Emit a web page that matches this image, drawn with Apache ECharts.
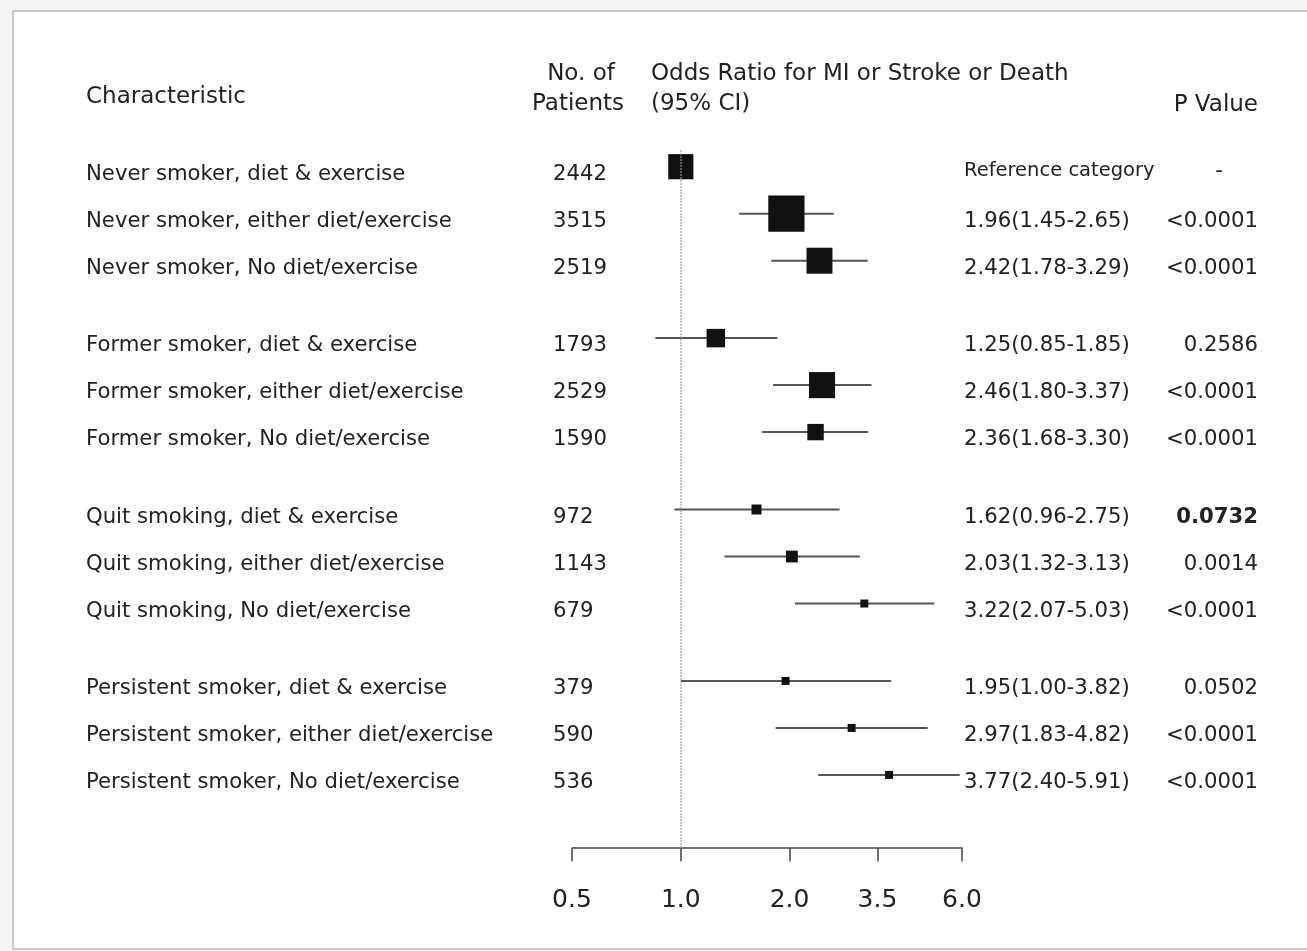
<!DOCTYPE html>
<html>
<head>
<meta charset="utf-8">
<title>Odds Ratio for MI or Stroke or Death</title>
<script src="https://cdn.jsdelivr.net/npm/echarts@6.0.0/dist/echarts.min.js"></script>
<style>
  html, body { margin: 0; padding: 0; background: #f4f4f4; }
  #chart { width: 1307px; height: 951px; }
</style>
</head>
<body>
<div id="chart"></div>
<script>
// Forest plot: risk of MI, stroke or death by smoking status and lifestyle
const characteristics = [
  'Never smoker, diet & exercise',
  'Never smoker, either diet/exercise',
  'Never smoker, No diet/exercise',
  'Former smoker, diet & exercise',
  'Former smoker, either diet/exercise',
  'Former smoker, No diet/exercise',
  'Quit smoking, diet & exercise',
  'Quit smoking, either diet/exercise',
  'Quit smoking, No diet/exercise',
  'Persistent smoker, diet & exercise',
  'Persistent smoker, either diet/exercise',
  'Persistent smoker, No diet/exercise'
];
const groupIndex = [0, 0, 0, 1, 1, 1, 2, 2, 2, 3, 3, 3];
const patients = [2442, 3515, 2519, 1793, 2529, 1590, 972, 1143, 679, 379, 590, 536];
const oddsRatio = [1.00, 1.96, 2.42, 1.25, 2.46, 2.36, 1.62, 2.03, 3.22, 1.95, 2.97, 3.77];
const ciLower = [null, 1.45, 1.78, 0.85, 1.80, 1.68, 0.96, 1.32, 2.07, 1.00, 1.83, 2.40];
const ciUpper = [null, 2.65, 3.29, 1.85, 3.37, 3.30, 2.75, 3.13, 5.03, 3.82, 4.82, 5.91];
const pValues = ['-', '<0.0001', '<0.0001', '0.2586', '<0.0001', '<0.0001',
                 '0.0732', '0.0014', '<0.0001', '0.0502', '<0.0001', '<0.0001'];
const boldPValues = ['0.0732'];
const axisTickValues = [0.5, 1.0, 2.0, 3.5, 6.0];
const axisTickLabels = ['0.5', '1.0', '2.0', '3.5', '6.0'];
const referenceText = 'Reference category';

const FONT = '"DejaVu Sans", "Liberation Sans", sans-serif';
const TEXT_COLOR = '#222';
const GROUP_GAP = 0.647;

// vertical slot of each row: one unit per row plus a gap between groups
const rowPos = characteristics.map((_, i) => i + groupIndex[i] * GROUP_GAP);
const boxSize = n => Math.max(8, n / 97);
const orText = i => ciLower[i] == null
  ? referenceText
  : oddsRatio[i].toFixed(2) + '(' + ciLower[i].toFixed(2) + '-' + ciUpper[i].toFixed(2) + ')';

const seriesData = characteristics.map((_, i) => ({
  value: [oddsRatio[i], rowPos[i], ciLower[i] == null ? '-' : ciLower[i], ciUpper[i] == null ? '-' : ciUpper[i]]
}));

function textStyle(text, size, align, weight) {
  return {
    text: text,
    fontFamily: FONT,
    fontSize: size,
    fontWeight: weight || 'normal',
    fill: TEXT_COLOR,
    align: align,
    verticalAlign: 'middle'
  };
}

function renderRow(params, api) {
  const i = params.dataIndex;
  const pos = api.value(1);
  const c = api.coord([api.value(0), pos]);
  const children = [];
  const lo = api.value(2), hi = api.value(3);
  if (!isNaN(lo) && !isNaN(hi)) {
    const a = api.coord([lo, pos]);
    const b = api.coord([hi, pos]);
    children.push({
      type: 'line',
      shape: { x1: a[0], y1: a[1], x2: b[0], y2: b[1] },
      style: { stroke: '#555', lineWidth: 2 }
    });
  }
  const s = boxSize(patients[i]);
  children.push({
    type: 'rect',
    shape: { x: c[0] - s / 2, y: c[1] - s / 2, width: s, height: s },
    style: { fill: '#111' }
  });
  // table columns sit a little below the marker's centre line
  const ty = c[1] + 7.5;
  children.push({ type: 'text', x: 86, y: ty, style: textStyle(characteristics[i], 21.2, 'left') });
  children.push({ type: 'text', x: 553, y: ty, style: textStyle(String(patients[i]), 21.2, 'left') });
  const isRef = ciLower[i] == null;
  children.push({ type: 'text', x: 964, y: isRef ? ty - 3 : ty,
    style: textStyle(orText(i), isRef ? 19.5 : 21.2, 'left') });
  const p = pValues[i];
  children.push({
    type: 'text',
    x: p === '-' ? 1219 : 1258,
    y: p === '-' ? ty - 3 : ty,
    style: textStyle(p, 21.2, p === '-' ? 'center' : 'right',
      boldPValues.indexOf(p) >= 0 ? 'bold' : 'normal')
  });
  return { type: 'group', children: children };
}

const chart = echarts.init(document.getElementById('chart'), null, { renderer: 'canvas' });

chart.setOption({
  animation: false,
  backgroundColor: '#f4f4f4',
  graphic: [
    {
      type: 'rect', z: -10,
      shape: { x: 13, y: 11, width: 1320, height: 938 },
      style: { fill: '#ffffff', stroke: '#c8c8c8', lineWidth: 2 }
    },
    { type: 'text', x: 86, y: 97, style: textStyle('Characteristic', 23, 'left') },
    { type: 'text', x: 581, y: 74, style: textStyle('No. of', 23, 'center') },
    { type: 'text', x: 578, y: 104, style: textStyle('Patients', 23, 'center') },
    { type: 'text', x: 651, y: 74, style: textStyle('Odds Ratio for MI or Stroke or Death', 23, 'left') },
    { type: 'text', x: 651, y: 104, style: textStyle('(95% CI)', 23, 'left') },
    { type: 'text', x: 1258, y: 105, style: textStyle('P Value', 23, 'right') }
  ],
  grid: { left: 572, right: 345, top: 150.25, height: 697.95 },
  xAxis: {
    type: 'log',
    logBase: 2,
    min: 0.5,
    max: 6,
    position: 'bottom',
    splitLine: { show: false },
    axisLine: { show: true, onZero: false, lineStyle: { color: '#444', width: 1.5 } },
    axisTick: {
      show: true, inside: false, length: 13,
      customValues: axisTickValues,
      lineStyle: { color: '#444', width: 1.5 }
    },
    axisLabel: {
      show: true,
      customValues: axisTickValues,
      margin: 40,
      fontFamily: FONT,
      fontSize: 25,
      color: TEXT_COLOR,
      formatter: v => {
        const k = axisTickValues.findIndex(t => Math.abs(t - v) < 1e-6);
        return k >= 0 ? axisTickLabels[k] : '';
      }
    }
  },
  yAxis: {
    type: 'value',
    inverse: true,
    min: -0.35,
    max: 14.5,
    show: false
  },
  series: [{
    type: 'custom',
    renderItem: renderRow,
    encode: { x: 0, y: 1 },
    data: seriesData,
    clip: false,
    markLine: {
      silent: true,
      symbol: ['none', 'none'],
      label: { show: false },
      lineStyle: { type: 'dotted', color: '#9a9a9a', width: 1.5 },
      data: [{ xAxis: 1 }]
    }
  }]
});
</script>
</body>
</html>
